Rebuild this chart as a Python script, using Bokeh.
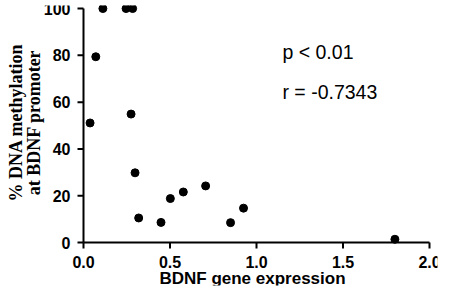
import math
from bokeh.plotting import figure
from bokeh.models import Range1d
from bokeh.core.properties import value
from bokeh.embed import file_html
from bokeh.resources import INLINE

# Data
bdnf_expression = [0.038, 0.071, 0.112, 0.246, 0.284, 0.275, 0.298, 0.319,
                   0.448, 0.502, 0.577, 0.706, 0.850, 0.925, 1.80]
dna_methylation = [51.1, 79.4, 100.0, 100.0, 100.0, 54.9, 29.8, 10.5,
                   8.6, 18.8, 21.6, 24.2, 8.5, 14.7, 1.4]
x_ticks = [0.0, 0.5, 1.0, 1.5, 2.0]
y_ticks = [0, 20, 40, 60, 80, 100]
x_tick_labels = ["0.0", "0.5", "1.0", "1.5", "2.0"]
y_tick_labels = ["0", "20", "40", "60", "80", "100"]
stat_p = "p < 0.01"
stat_r = "r = -0.7343"
y_title_1 = "% DNA methylation"
y_title_2 = "at BDNF promoter"
x_title = "BDNF gene expression"

# layout: pixels per data unit, and frame size (canvas minus 5 px borders)
W, H = 442, 290
SX = 173.0
SY = 2.34
FW, FH = W - 10, H - 10
x_start = -78 / SX
y_end = 101.3
x_range = Range1d(x_start, x_start + FW / SX)
y_range = Range1d(y_end - FH / SY, y_end)

p = figure(width=W, height=H, output_backend="svg", toolbar_location=None,
           x_range=x_range, y_range=y_range)
p.axis.visible = False
p.grid.visible = False
p.outline_line_color = None

x0, x1 = x_ticks[0], x_ticks[-1]
y0, y1 = y_ticks[0], y_ticks[-1]
tick_x = 6 / SX
tick_y = 6 / SY

# axis lines and tick marks
p.line([x0, x1], [y0, y0], line_color="black", line_width=2)
p.line([x0, x0], [y0, y1], line_color="black", line_width=2)
p.segment(x0=x_ticks, y0=[y0] * len(x_ticks), x1=x_ticks,
          y1=[y0 - tick_y] * len(x_ticks), line_color="black", line_width=2)
p.segment(x0=[x0] * len(y_ticks), y0=y_ticks, x1=[x0 - tick_x] * len(y_ticks),
          y1=y_ticks, line_color="black", line_width=2)

# data points
p.scatter(bdnf_expression, dna_methylation, size=8, color="black")

# tick labels
p.text(x=x_ticks, y=[y0 - 19 / SY] * len(x_ticks), text=x_tick_labels,
       text_align="center", text_baseline="middle", text_font_size="16px",
       text_font_style="bold", text_color="black")
p.text(x=[x0 - 13 / SX] * len(y_ticks), y=y_ticks, text=y_tick_labels,
       text_align="right", text_baseline="middle", text_font_size="16px",
       text_font_style="bold", text_color="black")

# axis titles
p.text(x=[(x0 + x1) / 2 - 4 / SX], y=[y0 - 36 / SY], text=[x_title],
       text_align="center", text_baseline="middle", text_font_size="17px",
       text_font_style="bold", text_color="black")
p.text(x=[x0 - 68 / SX, x0 - 50 / SX], y=[(y0 + y1) / 2 + 3 / SY] * 2,
       text=[y_title_1, y_title_2], angle=math.pi / 2,
       text_align="center", text_baseline="middle",
       text_font=value("Liberation Serif"), text_font_size="18px",
       text_font_style="bold", text_color="black")

# statistics
p.text(x=[1.15, 1.15], y=[81.6, 64.5], text=[stat_p, stat_r],
       text_align="left", text_baseline="middle", text_font_size="19.5px",
       text_color="black")

open("out.html", "w").write(file_html(p, INLINE))
